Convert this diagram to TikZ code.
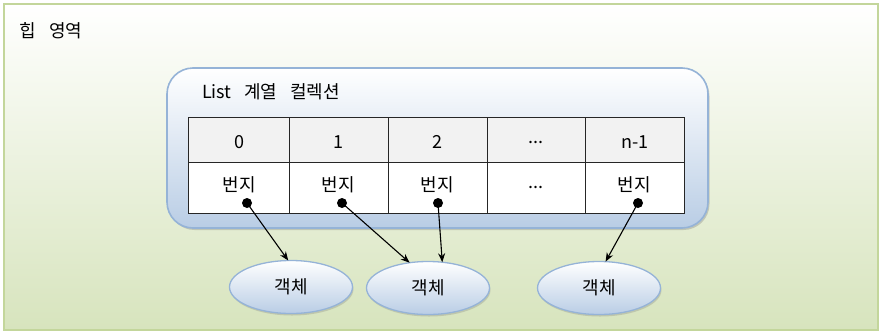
\documentclass[tikz,border=0pt]{standalone}
\usepackage{fontspec}
\setmainfont{Noto Sans CJK KR}
\usetikzlibrary{shapes.geometric,shadows,arrows.meta}
\definecolor{heapborder}{HTML}{C3D69B}
\definecolor{heapbot}{HTML}{D7E4BD}
\definecolor{bluebot}{HTML}{B9CDE5}
\definecolor{blueborder}{HTML}{95B3D7}
\definecolor{headfill}{HTML}{F2F2F2}
\newcommand{\lblfont}{\fontsize{18}{20}\selectfont}
\tikzset{
  heapbox/.style={rectangle, draw=heapborder, line width=1.8pt, top color=white, bottom color=heapbot, inner sep=0pt},
  listbox/.style={rectangle, rounded corners=26pt, draw=blueborder, line width=1.6pt, top color=white, bottom color=bluebot, inner sep=0pt,
     drop shadow={shadow xshift=1.5pt, shadow yshift=-2pt, opacity=0.35}},
  hcell/.style={rectangle, draw=black!85, line width=0.8pt, fill=headfill, minimum height=45pt, inner sep=0pt, font=\lblfont},
  bcell/.style={rectangle, draw=black!85, line width=0.8pt, fill=white, minimum height=51pt, inner sep=0pt, font=\lblfont},
  objnode/.style={ellipse, draw=blueborder, line width=1.3pt, top color=white, bottom color=bluebot, minimum width=123pt, minimum height=53pt, inner sep=0pt, outer sep=0pt,
     drop shadow={shadow xshift=1pt, shadow yshift=-2pt, opacity=0.3}},
  dotnode/.style={circle, fill=black, minimum size=10pt, inner sep=0pt},
  arr/.style={line width=1.1pt, -{Stealth[length=9pt,width=7pt]}},
  lbl/.style={font=\lblfont, inner sep=0pt},
}
\begin{document}
\begin{tikzpicture}[x=1pt,y=-1pt]
\useasboundingbox (0,0) rectangle (882,335);
\node[heapbox, minimum width=874pt, minimum height=326pt] (heap) at (441,167) {};
\node[lbl, anchor=west] (heaplbl) at (19,31) {힙\hspace{0.75em}영역};
\node[listbox, minimum width=541pt, minimum height=160pt] (list) at (437.5,148) {};
\node[lbl, anchor=west] (listlbl) at (202,92) {List\hspace{0.7em}계열\hspace{0.7em}컬렉션};
% header row
\node[hcell, minimum width=101pt] (h0) at (238.5,139.5) {};
\node[hcell, minimum width=99pt] (h1) at (338.5,139.5) {};
\node[hcell, minimum width=99pt] (h2) at (437.5,139.5) {};
\node[hcell, minimum width=98pt] (h3) at (536,139.5) {};
\node[hcell, minimum width=99pt] (h4) at (634.5,139.5) {};
\node[lbl] (x0) at (239,142) {0};
\node[lbl] (x1) at (338,142) {1};
\node[lbl] (x2) at (437,142) {2};
\node[lbl] (x3) at (536,142) {...};
\node[lbl] (x4) at (635,142) {n-1};
% body row
\node[bcell, minimum width=101pt] (b0) at (238.5,187.5) {};
\node[bcell, minimum width=99pt] (b1) at (338.5,187.5) {};
\node[bcell, minimum width=99pt] (b2) at (437.5,187.5) {};
\node[bcell, minimum width=98pt] (b3) at (536,187.5) {};
\node[bcell, minimum width=99pt] (b4) at (634.5,187.5) {};
\node[lbl] (t0) at (239,185) {번지};
\node[lbl] (t1) at (338,185) {번지};
\node[lbl] (t2) at (437,185) {번지};
\node[lbl] (t3) at (536,187) {...};
\node[lbl] (t4) at (634,185) {번지};
% dots
\node[dotnode] (d0) at (247,203) {};
\node[dotnode] (d1) at (342,203) {};
\node[dotnode] (d2) at (438,203) {};
\node[dotnode] (d4) at (638,203) {};
% objects
\node[objnode] (o1) at (291,287) {};
\node[objnode] (o2) at (428,288) {};
\node[objnode] (o3) at (599,288) {};
\node[lbl] at (o1) {객체};
\node[lbl] at (o2) {객체};
\node[lbl] at (o3) {객체};
% arrows
\draw[arr] (d0.center) -- (o1.96);
\draw[arr] (d1.center) -- (o2.126);
\draw[arr] (d2.center) -- (o2.61);
\draw[arr] (d4.center) -- (o3.76);
\end{tikzpicture}
\end{document}
